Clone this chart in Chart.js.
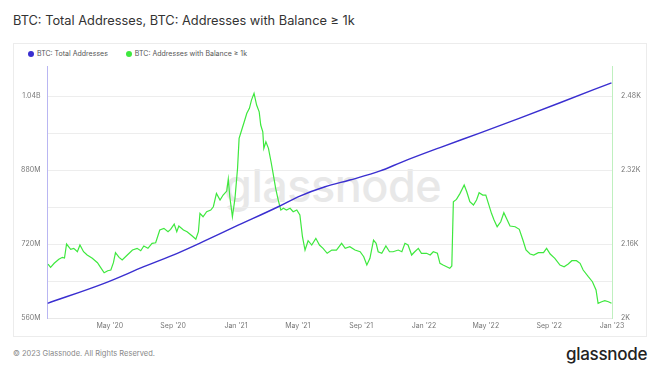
<!DOCTYPE html>
<html>
<head>
<meta charset="utf-8">
<script src="https://cdn.jsdelivr.net/npm/chart.js@4.4.1/dist/chart.umd.min.js"></script>
<style>
  html, body { margin:0; padding:0; background:#fff; }
  body { width:660px; height:372px; position:relative; overflow:hidden; font-family: Inter, "Noto Sans", sans-serif; }
  #title { position:absolute; left:13px; top:13px; font-size:12.8px; color:#333; white-space:nowrap; }
  #panel { position:absolute; left:13px; top:43px; width:634px; height:294px; border:1px solid #ececec; box-sizing:border-box; }
  #wm { position:absolute; left:224px; top:158px; font-size:45px; color:#e8e8e8; font-weight:500; letter-spacing:-0.5px; white-space:nowrap; }
  #legend { position:absolute; left:28px; top:49px; font-size:7px; color:#555; white-space:nowrap; }
  #legend span.item { display:inline-flex; align-items:center; margin-right:18px; }
  #legend span.dot { display:inline-block; width:6px; height:6px; border-radius:50%; margin-right:3px; }
  #chart { position:absolute; left:14px; top:43px; }
  #footer { position:absolute; left:13px; top:349px; font-size:7.5px; color:#888; white-space:nowrap; }
  #logo { position:absolute; left:566px; top:344px; font-size:17px; color:#222; font-weight:500; letter-spacing:-0.3px; white-space:nowrap; }
</style>
</head>
<body>
<div id="title">BTC: Total Addresses, BTC: Addresses with Balance ≥ 1k</div>
<div id="panel"></div>
<div id="wm">glassnode</div>
<div id="legend"></div>
<canvas id="chart" width="634" height="295"></canvas>
<div id="footer">© 2023 Glassnode. All Rights Reserved.</div>
<div id="logo">glassnode</div>
<script>
// ---- data ----
const seriesNames = ["BTC: Total Addresses", "BTC: Addresses with Balance ≥ 1k"];

// Total addresses (millions), left axis
const totalDates = ["2020-01-01","2020-04-20","2020-07-06","2020-09-09","2020-10-29","2020-12-30","2021-03-24","2021-05-05","2021-06-23","2021-08-10","2021-10-08","2021-11-19","2022-02-01","2022-04-19","2022-07-06","2022-09-22","2022-12-31"];
const totalValues = [591.8,635,670.9,699.9,725,757.4,800.6,823.8,843.9,858.4,878,897.3,928.6,960,992.4,1025.5,1068.7];

// Addresses with balance >= 1k BTC, right axis
const whaleDates = ["2020-01-02","2020-01-07","2020-01-14","2020-01-23","2020-01-30","2020-02-03","2020-02-07","2020-02-15","2020-02-21","2020-02-28","2020-03-04","2020-03-11","2020-03-18","2020-03-28","2020-04-07","2020-04-13","2020-04-20","2020-04-27","2020-05-03","2020-05-08","2020-05-12","2020-05-19","2020-05-25","2020-06-04","2020-06-14","2020-06-23","2020-06-30","2020-07-06","2020-07-14","2020-07-22","2020-07-29","2020-08-06","2020-08-14","2020-08-22","2020-08-27","2020-09-03","2020-09-08","2020-09-12","2020-09-21","2020-09-28","2020-10-08","2020-10-15","2020-10-20","2020-10-23","2020-10-29","2020-11-05","2020-11-13","2020-11-18","2020-11-24","2020-12-01","2020-12-07","2020-12-14","2020-12-17","2020-12-20","2020-12-25","2020-12-30","2021-01-04","2021-01-07","2021-01-12","2021-01-17","2021-01-22","2021-01-27","2021-01-31","2021-02-05","2021-02-10","2021-02-15","2021-02-18","2021-02-22","2021-02-24","2021-02-28","2021-03-05","2021-03-10","2021-03-14","2021-03-19","2021-03-24","2021-03-29","2021-04-03","2021-04-09","2021-04-16","2021-04-22","2021-04-29","2021-05-05","2021-05-10","2021-05-15","2021-05-21","2021-05-28","2021-06-05","2021-06-12","2021-06-19","2021-06-27","2021-07-06","2021-07-15","2021-07-25","2021-08-01","2021-08-10","2021-08-20","2021-08-30","2021-09-06","2021-09-12","2021-09-18","2021-09-25","2021-09-30","2021-10-04","2021-10-11","2021-10-19","2021-10-26","2021-11-02","2021-11-12","2021-11-19","2021-11-25","2021-12-01","2021-12-08","2021-12-14","2021-12-21","2021-12-27","2022-01-06","2022-01-13","2022-01-19","2022-01-27","2022-02-01","2022-02-07","2022-02-14","2022-02-20","2022-02-24","2022-02-27","2022-03-05","2022-03-12","2022-03-20","2022-03-25","2022-03-31","2022-04-07","2022-04-13","2022-04-18","2022-04-25","2022-05-01","2022-05-06","2022-05-12","2022-05-17","2022-05-23","2022-05-30","2022-06-05","2022-06-10","2022-06-17","2022-06-27","2022-07-05","2022-07-12","2022-07-18","2022-07-26","2022-08-02","2022-08-11","2022-08-21","2022-08-27","2022-09-03","2022-09-12","2022-09-22","2022-09-30","2022-10-08","2022-10-15","2022-10-24","2022-10-31","2022-11-06","2022-11-16","2022-11-24","2022-12-01","2022-12-05","2022-12-12","2022-12-18","2022-12-25","2022-12-31"];
const whaleValues = [2116.7,2109.6,2118.3,2126.9,2131.2,2129.7,2160,2148.5,2150.7,2143.3,2157.8,2143.3,2136.2,2129.1,2119.6,2109.6,2097.9,2102.3,2103.8,2119.6,2141.2,2131.2,2125.4,2136.2,2147,2150.7,2145.5,2155.7,2150.7,2161.5,2162.8,2190.3,2193.9,2186.6,2191.8,2203.2,2186.6,2198.9,2190.3,2186.6,2177.3,2170.2,2186.6,2226.4,2219,2229.8,2233.5,2240.6,2269.6,2255.1,2265.9,2274.6,2300.5,2262.3,2219,2258.8,2323.7,2388.5,2406.5,2424.4,2442.6,2453.4,2471.3,2485.8,2460.5,2446,2417.3,2402.8,2366.9,2381.2,2366.9,2337.9,2312.8,2280.4,2255.1,2233.5,2237.2,2233.5,2237.2,2229.8,2233.5,2222.7,2175.8,2147,2167.1,2157.8,2172.3,2157.8,2150.7,2139.9,2147,2147,2161.5,2150.7,2154.2,2147,2143.3,2132.5,2114.6,2129.1,2168.6,2161.5,2143.3,2139.9,2155.7,2143.3,2143.3,2147,2143.3,2161.5,2157.8,2136.2,2143.3,2150.7,2139.9,2139.9,2136.2,2143.3,2139.9,2118.3,2114.6,2110.9,2107.5,2112.4,2251.4,2256.6,2269.6,2287.5,2273.1,2251.4,2244.3,2255.1,2270.9,2265.9,2265.9,2248,2226.4,2211.9,2197.4,2208.2,2227.7,2215.6,2198.9,2197.4,2191.8,2168.6,2147,2138.4,2136.2,2141.2,2141.2,2150.7,2138.4,2129.1,2114.6,2110.9,2116.7,2123.9,2123.9,2118.3,2103.8,2089.3,2078.5,2060.5,2031.8,2035.2,2037.4,2035.2,2031.8];

// axis ticks
const xTickDates  = ["2020-05-01","2020-09-01","2021-01-01","2021-05-01","2021-09-01","2022-01-01","2022-05-01","2022-09-01","2023-01-01"];
const xTickLabels = ["May '20","Sep '20","Jan '21","May '21","Sep '21","Jan '22","May '22","Sep '22","Jan '23"];
const leftTickValues  = [560, 640, 720, 800, 880, 960, 1040];
const leftTickLabels  = ["560M", "", "720M", "", "880M", "", "1.04B"];
const rightTickValues = [2000, 2160, 2320, 2480];
const rightTickLabels = ["2K", "2.16K", "2.32K", "2.48K"];
const xStart = "2020-01-01", xEnd = "2023-01-01";

// ---- helpers ----
const T0 = Date.UTC(2020, 0, 1);
function dayOf(s) { const p = s.split("-").map(Number); return (Date.UTC(p[0], p[1] - 1, p[2]) - T0) / 86400000; }
const BLUE = "#3a2fd0", GREEN = "#3ee83e";

// legend (HTML)
const lg = document.getElementById("legend");
[[BLUE, seriesNames[0]], [GREEN, seriesNames[1]]].forEach(([c, n]) => {
  const it = document.createElement("span"); it.className = "item";
  const d = document.createElement("span"); d.className = "dot"; d.style.background = c;
  it.appendChild(d); it.appendChild(document.createTextNode(n)); lg.appendChild(it);
});

const tickFont = { family: "Inter", size: 7 };
new Chart(document.getElementById("chart"), {
  type: "line",
  data: {
    datasets: [
      { label: seriesNames[0], yAxisID: "yL", data: totalDates.map((d, i) => ({ x: dayOf(d), y: totalValues[i] })),
        borderColor: BLUE, borderWidth: 1.4, pointRadius: 0, cubicInterpolationMode: "monotone", fill: false },
      { label: seriesNames[1], yAxisID: "yR", data: whaleDates.map((d, i) => ({ x: dayOf(d), y: whaleValues[i] })),
        borderColor: GREEN, borderWidth: 1.2, pointRadius: 0, tension: 0, fill: false }
    ]
  },
  options: {
    responsive: false, animation: false,
    layout: { padding: { left: 0, right: 0, top: 23, bottom: 0 } },
    plugins: { legend: { display: false }, tooltip: { enabled: false } },
    scales: {
      x: {
        type: "linear", min: dayOf(xStart), max: dayOf(xEnd),
        afterBuildTicks: s => { s.ticks = xTickDates.map(d => ({ value: dayOf(d) })); },
        afterFit: s => { s.height = 20; },
        ticks: { font: tickFont, color: "#777", padding: 4, maxRotation: 0, autoSkip: false,
                 callback: (v, i) => xTickLabels[i] },
        grid: { display: false, drawTicks: false },
        border: { display: true, color: "#e8e8e8" }
      },
      yL: {
        position: "left", min: 560, max: 1105,
        afterBuildTicks: s => { s.ticks = leftTickValues.map(v => ({ value: v })); },
        afterFit: s => { s.width = 33.5; },
        ticks: { font: tickFont, color: "#777", padding: 7, callback: (v, i) => leftTickLabels[i] },
        grid: { color: "#ededed", lineWidth: 1, drawTicks: false },
        border: { display: true, color: "#b9b6f2" }
      },
      yR: {
        position: "right", min: 2000, max: 2545,
        afterBuildTicks: s => { s.ticks = rightTickValues.map(v => ({ value: v })); },
        afterFit: s => { s.width = 36; },
        ticks: { font: tickFont, color: "#777", padding: 9, callback: (v, i) => rightTickLabels[i] },
        grid: { display: false, drawTicks: false },
        border: { display: true, color: "#bff0bf" }
      }
    }
  }
});
</script>
</body>
</html>
